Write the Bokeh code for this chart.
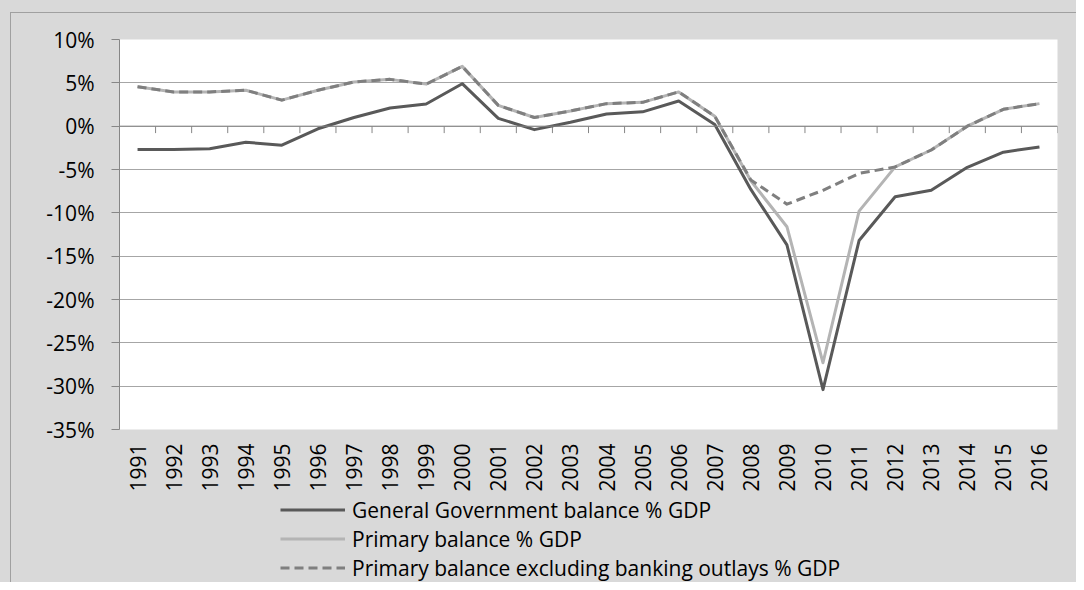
import math
from bokeh.plotting import figure
from bokeh.layouts import column
from bokeh.models import (Range1d, FixedTicker, PrintfTickFormatter, Legend, LegendItem,
                          Span, ColumnDataSource)
from bokeh.embed import file_html
from bokeh.resources import INLINE

# ---- data ----
years = [str(y) for y in range(1991, 2017)]
gg_balance = [-2.7, -2.7, -2.6, -1.85, -2.2, -0.3, 1.0, 2.1, 2.55, 4.9, 0.9, -0.4, 0.45,
              1.4, 1.65, 2.9, 0.2, -7.3, -13.7, -30.4, -13.2, -8.15, -7.4, -4.75, -3.0, -2.4]
primary_balance = [4.55, 3.95, 3.95, 4.15, 3.0, 4.15, 5.1, 5.4, 4.85, 6.9, 2.4, 1.0, 1.75,
                   2.6, 2.75, 3.95, 1.15, -6.3, -11.6, -27.3, -9.8, -4.7, -2.75, 0.0, 1.95, 2.6]
primary_ex_banking = [4.55, 3.95, 3.95, 4.15, 3.0, 4.15, 5.1, 5.4, 4.85, 6.9, 2.4, 1.0, 1.75,
                      2.6, 2.75, 3.95, 1.15, -6.2, -9.0, -7.4, -5.45, -4.7, -2.75, 0.0, 1.95, 2.6]
y_ticks = [10, 5, 0, -5, -10, -15, -20, -25, -30, -35]
labels = ["General Government balance % GDP",
          "Primary balance % GDP",
          "Primary balance excluding banking outlays % GDP"]

FONT = "Open Sans"
BG = "#d9d9d9"
STYLES = [dict(line_color="#595959", line_width=3, line_join="round"),
          dict(line_color="#b4b4b4", line_width=3, line_join="round"),
          dict(line_color="#7f7f7f", line_width=3, line_join="round", line_dash="9 5")]

x_pos = [i + 0.5 for i in range(len(years))]
boundaries = [i + 1 for i in range(len(years))]

# ---- main chart ----
p = figure(width=1076, height=495, output_backend="svg", toolbar_location=None,
           x_range=Range1d(0, len(years)), y_range=Range1d(min(y_ticks), max(y_ticks)),
           min_border_left=119, min_border_right=19, min_border_top=39, min_border_bottom=66)
p.border_fill_alpha = 0
p.background_fill_color = "white"
p.outline_line_color = None

p.yaxis.ticker = FixedTicker(ticks=y_ticks)
p.yaxis.formatter = PrintfTickFormatter(format="%d%%")
p.yaxis.axis_line_color = "#868686"
p.yaxis.major_tick_line_color = "#868686"
p.yaxis.major_tick_in = 0
p.yaxis.major_tick_out = 8
p.yaxis.minor_tick_line_color = None
p.yaxis.major_label_standoff = 17
p.yaxis.major_label_text_font = FONT
p.yaxis.major_label_text_font_size = "21px"
p.yaxis.major_label_text_color = "black"

p.xaxis.ticker = FixedTicker(ticks=x_pos)
p.xaxis.major_label_overrides = {x: y for x, y in zip(x_pos, years)}
p.xaxis.major_label_orientation = math.pi / 2
p.xaxis.axis_line_color = None
p.xaxis.major_tick_line_color = None
p.xaxis.minor_tick_line_color = None
p.xaxis.major_label_standoff = 8
p.xaxis.major_label_text_font = FONT
p.xaxis.major_label_text_font_size = "21px"
p.xaxis.major_label_text_color = "black"

p.xgrid.grid_line_color = None
p.ygrid.ticker = FixedTicker(ticks=y_ticks)
p.ygrid.grid_line_color = "#a6a6a6"
p.ygrid.grid_line_width = 1

# category axis line at 0 with boundary ticks
p.add_layout(Span(location=0, dimension="width", line_color="#868686", line_width=1))
p.segment(x0=boundaries, y0=[0] * len(boundaries), x1=boundaries, y1=[-0.8] * len(boundaries),
          line_color="#868686", line_width=1)

src = ColumnDataSource(dict(x=x_pos, gg=gg_balance, pb=primary_balance, pe=primary_ex_banking))
p.line("x", "gg", source=src, **STYLES[0])
p.line("x", "pb", source=src, **STYLES[1])
p.line("x", "pe", source=src, **STYLES[2])

# ---- legend strip (separate figure so it is not clipped by the plot frame) ----
lg = figure(width=1076, height=87, output_backend="svg", toolbar_location=None,
            x_axis_location=None, y_axis_location=None,
            x_range=Range1d(0, 1), y_range=Range1d(0, 1),
            min_border_left=0, min_border_right=0, min_border_top=0, min_border_bottom=0)
lg.border_fill_alpha = 0
lg.background_fill_alpha = 0
lg.outline_line_color = None
lg.grid.grid_line_color = None
items = []
for lab, st in zip(labels, STYLES):
    # placeholder renderer outside the visible range: only its legend glyph is shown
    r = lg.line(x=[-2, -1], y=[-2, -2], **st)
    items.append(LegendItem(label=lab, renderers=[r]))
legend = Legend(items=items, location=(161, 0), orientation="vertical",
                background_fill_alpha=0, border_line_color=None,
                padding=0, margin=0, spacing=0,
                glyph_width=65, glyph_height=29, label_height=29, label_standoff=7,
                label_text_font=FONT, label_text_font_size="21px", label_text_color="black")
lg.add_layout(legend, "center")

layout = column(p, lg, spacing=0)
layout.styles = {"background-color": BG,
                 "box-shadow": "inset 10px 12px 0 0 #d9d9d9, inset 11px 13px 0 0 #a0a0a0"}

open("out.html", "w").write(file_html(layout, INLINE))
